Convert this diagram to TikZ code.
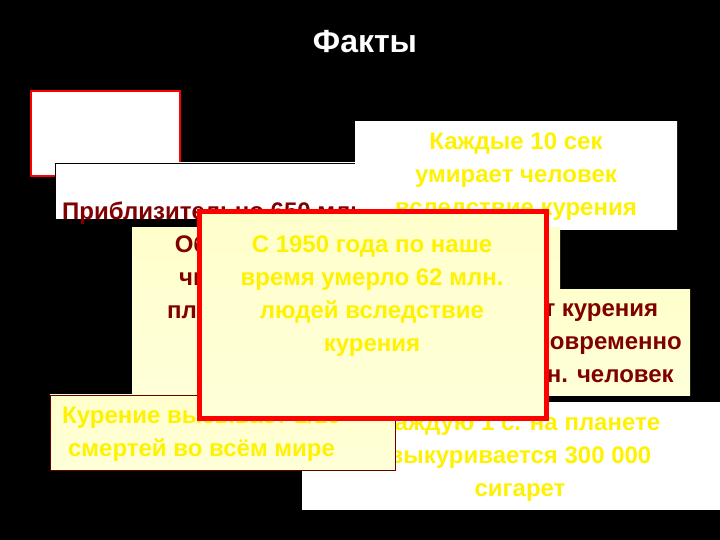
\documentclass[tikz,border=0pt]{standalone}
\usepackage{fontspec}
\setmainfont{Liberation Sans}
\begin{document}
\begin{tikzpicture}[x=1pt,y=1pt,
  txt/.style={font=\bfseries\fontsize{24}{33}\selectfont,align=center,inner sep=0pt},
  yel/.style={txt,text=yellow},
  dred/.style={txt,text=red!50!black}]
\useasboundingbox (0,0) rectangle (720,540);
\fill[black] (0,0) rectangle (720,540);
\node[txt,text=white,font=\bfseries\fontsize{32}{36}\selectfont] (title) at (365,498) {Факты};
% box 1
\shade[top color=white,middle color=blue!80!black,bottom color=white] (31,449) rectangle (180,364);
\draw[red,line width=2.5pt] (31,449) rectangle (180,364);
\node[txt,text=white] (b1) at (105,410) {В наше\\время};
% box 2
\shade[top color=white,middle color=red,bottom color=white] (55,377) rectangle (603,321);
\draw[black] (55,377) rectangle (603,321);
\node[dred,anchor=west] (b2) at (62,327) {Приблизительно 650 млн.};
% box 3
\shade[top color=white,middle color=red!60!black,bottom color=white] (355,418) rectangle (677,310);
\node[yel] (b3) at (516,363) {Каждые 10 сек\\умирает человек\\вследствие курения};
% box 4 left
\shade[top color=yellow!20,middle color=red,bottom color=yellow!15] (132,312) rectangle (560,145);
\node[dred] (b4) at (215,228) {Общее\\ число\\ планете\\ \\ 2,5};
% box 4 right
\shade[top color=yellow!20,middle color=green!50!black,bottom color=yellow!15] (420,250) rectangle (690,144);
\node[dred,anchor=east] (b5) at (682,197) {от курения\\ одновременно\\ млн. человек};
% purple box
\shade[top color=white,middle color=violet!80!blue,bottom color=white] (302,137) rectangle (720,30);
\node[yel] (b6) at (520,82) {Каждую 1 с. на планете\\ выкуривается 300 000\\ сигарет};
% pink box
\shade[top color=yellow!20,middle color=magenta!80!black,bottom color=yellow!15] (50,145) rectangle (395,70);
\draw[red!40!black] (50,145) rectangle (395,70);
\node[yel,anchor=west] (b7) at (62,106) {Курение вызывает 1/10\\ смертей во всём мире};
% central box
\shade[top color=yellow!20,middle color=blue!70!black,bottom color=yellow!15] (199,328) rectangle (546,121);
\draw[red,line width=5pt] (199,328) rectangle (546,121);
\node[yel] (b8) at (372,225) {С 1950 года по наше\\ время умерло 62 млн.\\ людей вследствие\\ курения\\ \strut};
\end{tikzpicture}
\end{document}
